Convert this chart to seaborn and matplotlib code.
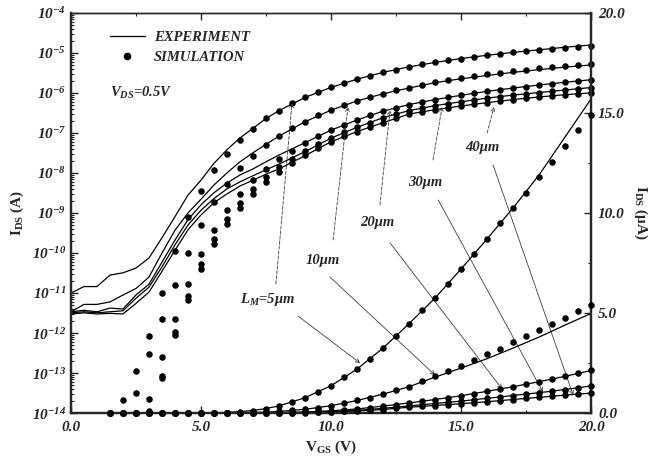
import numpy as np
import pandas as pd
import seaborn as sns
import matplotlib.pyplot as plt
from matplotlib.ticker import LogLocator, MultipleLocator, NullFormatter

sns.set_style('ticks')
plt.rcParams['font.family'] = ['Liberation Serif', 'DejaVu Serif']
plt.rcParams['mathtext.fontset'] = 'custom'
plt.rcParams['mathtext.rm'] = 'Liberation Serif:bold:italic'
plt.rcParams['mathtext.it'] = 'Liberation Serif:bold:italic'
plt.rcParams['mathtext.bf'] = 'Liberation Serif:bold'

# channel lengths (um)
lengths = ['5', '10', '20', '30', '40']

# measured curves, I_DS in A (same data shown on log and linear axes)
vgs_exp = [0, 0.5, 1, 1.5, 2, 2.5, 3, 3.5, 4, 4.5, 5, 5.5, 6, 6.5, 7, 7.5, 8,
           9, 10, 11, 12, 13, 14, 15, 16, 17, 18, 19, 20]
exp_5 = [1.0e-11, 1.45e-11, 1.45e-11, 2.8e-11, 3.2e-11, 4.2e-11, 7.5e-11, 2.4e-10,
         8.1e-10, 2.8e-9, 6.6e-9, 1.74e-8, 3.8e-8, 7.5e-8, 1.3e-7, 2.3e-7, 3.6e-7,
         7.7e-7, 1.37e-6, 2.2e-6, 3.25e-6, 4.47e-6, 5.75e-6, 7.2e-6, 8.7e-6,
         1.025e-5, 1.19e-5, 1.38e-5, 1.57e-5]
exp_10 = [3.4e-12, 5.2e-12, 5.2e-12, 6.0e-12, 8.9e-12, 1.3e-11, 2.5e-11, 1.0e-10,
          3.7e-10, 1.0e-9, 2.2e-9, 5.0e-9, 1.0e-8, 1.9e-8, 3.2e-8, 5.2e-8, 8.3e-8,
          1.9e-7, 3.7e-7, 6.3e-7, 9.5e-7, 1.32e-6, 1.8e-6, 2.25e-6, 2.72e-6,
          3.25e-6, 3.8e-6, 4.4e-6, 4.98e-6]
exp_20 = [3.4e-12, 3.7e-12, 3.4e-12, 4.2e-12, 4.0e-12, 8.9e-12, 1.66e-11, 5.9e-11,
          2.1e-10, 6.8e-10, 1.6e-9, 3.2e-9, 5.6e-9, 8.9e-9, 1.26e-8, 1.9e-8, 2.8e-8,
          5.7e-8, 1.17e-7, 2.1e-7, 3.5e-7, 5.1e-7, 6.8e-7, 8.7e-7, 1.09e-6,
          1.32e-6, 1.57e-6, 1.84e-6, 2.13e-6]
exp_30 = [3.2e-12, 3.4e-12, 3.2e-12, 3.4e-12, 3.6e-12, 7.4e-12, 1.4e-11, 4.5e-11,
          1.6e-10, 5.0e-10, 1.17e-9, 2.3e-9, 4.0e-9, 6.0e-9, 8.5e-9, 1.2e-8, 1.66e-8,
          3.4e-8, 7.4e-8, 1.38e-7, 2.4e-7, 3.6e-7, 4.8e-7, 6.0e-7, 7.4e-7,
          8.8e-7, 1.02e-6, 1.18e-6, 1.36e-6]
exp_40 = [3.0e-12, 3.2e-12, 3.0e-12, 3.1e-12, 3.0e-12, 5.5e-12, 1.05e-11, 3.5e-11,
          1.17e-10, 3.8e-10, 8.9e-10, 1.8e-9, 3.0e-9, 4.7e-9, 6.6e-9, 9.3e-9, 1.26e-8,
          2.7e-8, 6.0e-8, 1.08e-7, 1.8e-7, 2.95e-7, 3.8e-7, 4.7e-7, 5.7e-7,
          6.8e-7, 7.9e-7, 9.0e-7, 1.0e-6]

# simulated points, I_DS in A (0 = below 1e-14)
vgs_sim = np.arange(1.5, 20.01, 0.5)
sim_5 = [0, 2.1e-14, 1.1e-13, 8.5e-13, 1.0e-11, 1.1e-10, 7.9e-10, 3.5e-9, 1.15e-8,
         2.95e-8, 6.6e-8, 1.25e-7, 2.3e-7, 3.6e-7, 5.6e-7, 7.7e-7, 1.04e-6, 1.37e-6,
         1.78e-6, 2.2e-6, 2.7e-6, 3.25e-6, 3.83e-6, 4.47e-6, 5.15e-6, 5.75e-6,
         6.45e-6, 7.2e-6, 7.95e-6, 8.7e-6, 9.5e-6, 1.025e-5, 1.1e-5, 1.18e-5,
         1.255e-5, 1.335e-5, 1.412e-5, 1.49e-5]
sim_10 = [0, 0, 3.2e-14, 3.0e-13, 2.2e-12, 1.6e-11, 1.0e-10, 5.0e-10, 1.86e-9,
          5.2e-9, 1.3e-8, 2.6e-8, 5.0e-8, 8.3e-8, 1.32e-7, 1.9e-7, 2.8e-7, 3.7e-7,
          4.9e-7, 6.4e-7, 7.8e-7, 9.5e-7, 1.15e-6, 1.33e-6, 1.6e-6, 1.84e-6,
          2.1e-6, 2.35e-6, 2.65e-6, 2.93e-6, 3.22e-6, 3.53e-6, 3.83e-6, 4.15e-6,
          4.45e-6, 4.75e-6, 5.08e-6, 5.4e-6]
sim_20 = [0, 0, 0, 2.3e-14, 2.5e-13, 2.3e-12, 1.7e-11, 9.3e-11, 3.7e-10, 1.17e-9,
          2.95e-9, 6.6e-9, 1.23e-8, 2.2e-8, 3.6e-8, 5.75e-8, 8.3e-8, 1.2e-7, 1.6e-7,
          2.1e-7, 2.8e-7, 3.5e-7, 4.3e-7, 5.1e-7, 5.9e-7, 6.8e-7, 7.7e-7, 8.7e-7,
          9.7e-7, 1.09e-6, 1.2e-6, 1.32e-6, 1.44e-6, 1.57e-6, 1.7e-6, 1.84e-6,
          1.99e-6, 2.13e-6]
sim_30 = [0, 0, 0, 1.1e-14, 8.3e-14, 1.07e-12, 8.3e-12, 5.2e-11, 2.2e-10, 7.1e-10,
          1.8e-9, 4.0e-9, 7.8e-9, 1.38e-8, 2.25e-8, 3.6e-8, 5.3e-8, 7.6e-8, 1.03e-7,
          1.38e-7, 1.8e-7, 2.4e-7, 3.0e-7, 3.6e-7, 4.2e-7, 4.8e-7, 5.4e-7, 6.0e-7,
          6.7e-7, 7.4e-7, 8.1e-7, 8.8e-7, 9.5e-7, 1.02e-6, 1.1e-6, 1.18e-6,
          1.27e-6, 1.36e-6]
sim_40 = [0, 0, 0, 1.05e-14, 7.6e-14, 8.9e-13, 6.6e-12, 4.0e-11, 1.7e-10, 5.2e-10,
          1.32e-9, 2.9e-9, 5.8e-9, 1.05e-8, 1.75e-8, 2.8e-8, 4.2e-8, 6.0e-8, 8.2e-8,
          1.08e-7, 1.4e-7, 1.8e-7, 2.35e-7, 2.95e-7, 3.4e-7, 3.8e-7, 4.25e-7, 4.7e-7,
          5.2e-7, 5.7e-7, 6.25e-7, 6.8e-7, 7.35e-7, 7.9e-7, 8.45e-7, 9.0e-7,
          9.5e-7, 1.0e-6]

exp = pd.DataFrame({
    'vgs': vgs_exp * 5,
    'ids': exp_5 + exp_10 + exp_20 + exp_30 + exp_40,
    'L': np.repeat(lengths, len(vgs_exp)),
})
sim = pd.DataFrame({
    'vgs': np.tile(vgs_sim, 5),
    'ids': sim_5 + sim_10 + sim_20 + sim_30 + sim_40,
    'L': np.repeat(lengths, len(vgs_sim)),
})
exp['ids_ua'] = exp['ids'] * 1e6
sim['ids_ua'] = sim['ids'] * 1e6

fig, ax = plt.subplots(figsize=(6.51, 4.57), dpi=100)
fig.subplots_adjust(left=0.109, right=0.908, bottom=0.096, top=0.972)
ax2 = ax.twinx()
ax.set_yscale('log')

# log axis (left)
sns.lineplot(data=exp, x='vgs', y='ids', units='L', estimator=None,
             color='black', lw=0.9, ax=ax)
sns.scatterplot(data=sim[sim['ids'] > 0], x='vgs', y='ids', color='black',
                s=22, linewidth=0, ax=ax, clip_on=False, zorder=3)
# linear axis (right)
sns.lineplot(data=exp, x='vgs', y='ids_ua', units='L', estimator=None,
             color='black', lw=0.9, ax=ax2)
sns.scatterplot(data=sim, x='vgs', y='ids_ua', color='black',
                s=22, linewidth=0, ax=ax2, clip_on=False, zorder=3)

ax.set_xlim(0, 20)
ax.set_ylim(1e-14, 1e-4)
ax2.set_ylim(0, 20)

bi = dict(fontweight='bold', fontstyle='italic', fontsize=11)
ax.set_xticks([0, 5, 10, 15, 20], ['0.0', '5.0', '10.0', '15.0', '20.0'], **bi)
ax.xaxis.set_minor_locator(MultipleLocator(2.5))
ax.set_yticks([10.0 ** k for k in range(-14, -3)],
              [rf'$10^{{{k}}}$' for k in range(-14, -3)], fontsize=11)
ax.yaxis.set_minor_locator(LogLocator(base=10, subs=np.arange(2, 10), numticks=30))
ax.yaxis.set_minor_formatter(NullFormatter())
ax2.set_yticks([0, 5, 10, 15, 20], ['0.0', '5.0', '10.0', '15.0', '20.0'], **bi)
ax2.yaxis.set_minor_locator(MultipleLocator(2.5))

ax.tick_params(which='both', direction='in', top=True, right=False)
ax.tick_params(axis='x', which='major', pad=6)
ax.tick_params(which='major', length=5, width=1)
ax.tick_params(which='minor', length=2.5, width=0.8)
ax2.tick_params(which='both', direction='in')
ax2.tick_params(which='major', length=5, width=1, pad=5)
ax2.tick_params(which='minor', length=2.5, width=0.8)
for a in (ax, ax2):
    for side in ['left', 'right', 'bottom']:
        a.spines[side].set_linewidth(1.6)
    a.spines['top'].set_linewidth(1.0)

ax.set_xlabel(r'$\mathbf{V_{GS}}$ (V)', fontweight='bold', fontsize=11, labelpad=3)
ax.set_ylabel(r'$\mathbf{I_{DS}}$ (A)', fontweight='bold', fontsize=11, labelpad=4)
ax2.set_ylabel(r'$\mathbf{I_{DS}}$ (μA)', fontweight='bold', fontsize=11,
               rotation=270, labelpad=18)

# legend
handles = [plt.Line2D([], [], color='black', lw=0.9),
           plt.Line2D([], [], color='black', marker='o', ms=4.5, ls='none')]
ax.legend(handles, ['EXPERIMENT', 'SIMULATION'], loc='upper left',
          bbox_to_anchor=(0.075, 0.955), frameon=False, borderpad=0,
          borderaxespad=0, handlelength=2.4, handletextpad=0.6,
          labelspacing=0.45,
          prop=dict(family='Liberation Serif', weight='bold', style='italic', size=10.5))
ax.text(0.075, 0.80, r'$V_{DS}$=0.5V', transform=ax.transAxes, ha='left',
        va='center', fontsize=10.5, fontweight='bold', fontstyle='italic')

# annotations: label, arrow to log curve, arrow to linear curve
label_text = [r'$L_M$=5μm', '10μm', '20μm', '30μm', '40μm']
label_pos = [(7.54, 10**-11.15), (9.69, 10**-10.175), (11.77, 10**-9.25),
             (13.62, 10**-8.25), (15.81, 10**-7.375)]
up_from = [(7.88, 10**-10.775), (10.08, 10**-9.675), (11.88, 10**-8.8),
           (13.92, 10**-7.675), (16.0, 10**-7.0)]
up_to = [(8.5, 10**-6.25), (10.65, 10**-6.35), (12.27, 10**-6.425),
         (14.27, 10**-6.35), (16.27, 10**-6.35)]
down_from = [(8.73, 10**-11.575), (9.96, 10**-10.6), (12.27, 10**-9.75),
             (14.12, 10**-8.675), (16.23, 10**-7.8)]
down_to = [(11.12, 2.5), (14.0, 1.9), (16.58, 1.2), (18.15, 1.05), (19.31, 0.9)]

for txt, pos, uf, ut, df, dt in zip(label_text, label_pos, up_from, up_to,
                                    down_from, down_to):
    ax.text(pos[0], pos[1], txt, ha='center', va='center', fontsize=10.5,
            fontweight='bold', fontstyle='italic', zorder=5)
    ax.annotate('', xy=ut, xytext=uf,
                arrowprops=dict(arrowstyle='->', color='0.25', lw=0.6,
                                ls=(0, (4, 2)), shrinkA=0, shrinkB=0,
                                mutation_scale=7))
    ax.annotate('', xy=dt, xycoords=ax2.transData, xytext=df,
                textcoords=ax.transData,
                arrowprops=dict(arrowstyle='->', color='0.25', lw=0.6,
                                shrinkA=0, shrinkB=0, mutation_scale=7))

fig.savefig('out.png', dpi=100)
